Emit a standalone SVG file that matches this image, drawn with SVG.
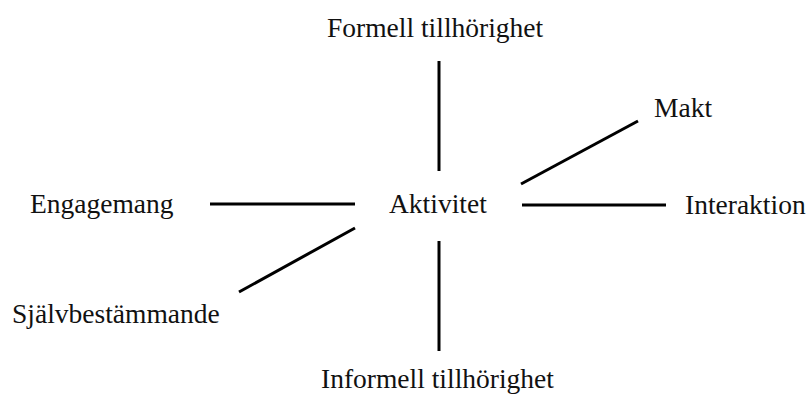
<svg xmlns="http://www.w3.org/2000/svg" width="812" height="396" viewBox="0 0 812 396">
<style>
text{font-family:"Liberation Serif","Times New Roman",serif;font-size:27.5px;fill:#111}
line{stroke:#000;stroke-width:3;stroke-linecap:butt}
</style>
<rect width="812" height="396" fill="#fff"/>
<g id="connectors">
<line x1="439" y1="61" x2="439" y2="171"/>
<line x1="521" y1="184" x2="638" y2="121"/>
<line x1="522" y1="205" x2="666" y2="205"/>
<line x1="210" y1="204" x2="355" y2="204"/>
<line x1="355" y1="228" x2="239" y2="292"/>
<line x1="439" y1="241" x2="439" y2="351"/>
</g>
<g id="aktivitet"><text x="389" y="213">Aktivitet</text></g>
<g id="formell"><text x="327" y="37">Formell tillhörighet</text></g>
<g id="makt"><text x="654" y="117">Makt</text></g>
<g id="interaktion"><text x="685" y="214">Interaktion</text></g>
<g id="engagemang"><text x="30" y="213">Engagemang</text></g>
<g id="sjalvbestammande"><text x="12" y="323">Självbestämmande</text></g>
<g id="informell"><text x="321" y="388">Informell tillhörighet</text></g>
</svg>
